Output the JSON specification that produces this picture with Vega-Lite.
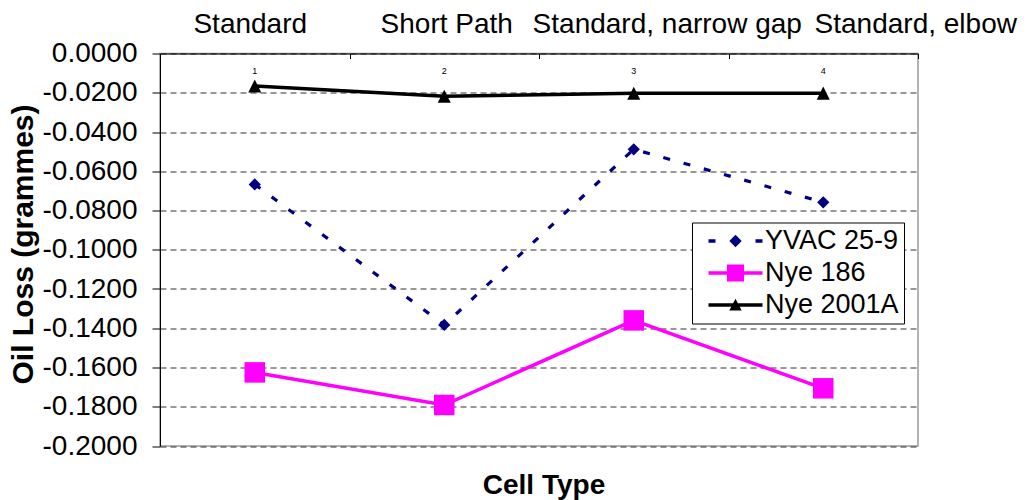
{
  "$schema": "https://vega.github.io/schema/vega-lite/v6.json",
  "width": 758,
  "height": 392.5,
  "autosize": {"type": "none"},
  "padding": {"left": 160, "top": 53.5, "right": 111, "bottom": 54},
  "background": "white",
  "config": {
    "view": {"stroke": "#9a9a9a", "strokeWidth": 1.5},
    "font": "Liberation Sans"
  },
  "title": {
    "text": "Cell Type",
    "orient": "bottom",
    "anchor": "middle",
    "frame": "group",
    "fontSize": 28,
    "fontWeight": "bold",
    "font": "Liberation Sans",
    "color": "black",
    "baseline": "alphabetic",
    "offset": 34,
    "dx": 5
  },
  "data": {
    "values": [
      {"cell": "Standard", "n": "1", "series": "YVAC 25-9", "loss": -0.0667},
      {"cell": "Short Path", "n": "2", "series": "YVAC 25-9", "loss": -0.1383},
      {"cell": "Standard, narrow gap", "n": "3", "series": "YVAC 25-9", "loss": -0.0488},
      {"cell": "Standard, elbow", "n": "4", "series": "YVAC 25-9", "loss": -0.0758},
      {"cell": "Standard", "n": "1", "series": "Nye 186", "loss": -0.1625},
      {"cell": "Short Path", "n": "2", "series": "Nye 186", "loss": -0.1791},
      {"cell": "Standard, narrow gap", "n": "3", "series": "Nye 186", "loss": -0.1360},
      {"cell": "Standard, elbow", "n": "4", "series": "Nye 186", "loss": -0.1706},
      {"cell": "Standard", "n": "1", "series": "Nye 2001A", "loss": -0.0166},
      {"cell": "Short Path", "n": "2", "series": "Nye 2001A", "loss": -0.0218},
      {"cell": "Standard, narrow gap", "n": "3", "series": "Nye 2001A", "loss": -0.0203},
      {"cell": "Standard, elbow", "n": "4", "series": "Nye 2001A", "loss": -0.0202}
    ]
  },
  "encoding": {
    "x": {
      "field": "cell",
      "type": "nominal",
      "sort": ["Standard", "Short Path", "Standard, narrow gap", "Standard, elbow"],
      "scale": {"paddingInner": 0, "paddingOuter": 0},
      "axis": {
        "orient": "top",
        "title": null,
        "labelAngle": 0,
        "labelFont": "Liberation Sans",
        "labelFontSize": 28,
        "labelColor": "black",
        "labelBaseline": "alphabetic",
        "labelPadding": 26.5,
        "labelOverlap": false,
        "labelBound": false,
        "labelFlush": false,
        "labelLimit": 0,
        "labelOffset": {
          "condition": [
            {"test": "datum.value == 'Standard, narrow gap'", "value": 33},
            {"test": "datum.value == 'Standard, elbow'", "value": 92},
            {"test": "datum.value == 'Standard'", "value": -5}
          ],
          "value": 2
        },
        "domainColor": "black",
        "domainWidth": 1,
        "tickColor": "black",
        "tickBand": "extent",
        "tickSize": -5,
        "grid": false
      }
    },
    "y": {
      "field": "loss",
      "type": "quantitative",
      "scale": {"domain": [-0.2, 0], "nice": false, "zero": false},
      "axis": {
        "values": [-0.2, -0.18, -0.16, -0.14, -0.12, -0.1, -0.08, -0.06, -0.04, -0.02, 0],
        "labelExpr": "replace(format(datum.value, '.4f'), '\u2212', '-')",
        "labelFont": "Liberation Sans",
        "labelFontSize": 28,
        "labelColor": "black",
        "labelPadding": 15,
        "tickSize": 8,
        "tickColor": "black",
        "domainColor": "black",
        "grid": true,
        "gridColor": "#333333",
        "gridDash": [6, 4],
        "gridWidth": 1,
        "title": "Oil Loss (grammes)",
        "titleFont": "Liberation Sans",
        "titleFontSize": 30,
        "titleFontWeight": "bold",
        "titleColor": "black",
        "titleAngle": 270,
        "titleAlign": "center",
        "titleBaseline": "alphabetic",
        "titleX": -128,
        "titleY": 190.5,
        "titleLimit": 0
      }
    }
  },
  "layer": [
    {
      "transform": [{"filter": "datum.series == 'YVAC 25-9'"}],
      "mark": {
        "type": "line",
        "color": "#000080",
        "strokeWidth": 3.2,
        "strokeDash": [7, 14],
        "point": {"filled": true, "shape": "diamond", "size": 150, "color": "#000080", "opacity": 1}
      }
    },
    {
      "transform": [{"filter": "datum.series == 'Nye 186'"}],
      "mark": {
        "type": "line",
        "color": "#ff00ff",
        "strokeWidth": 3.5,
        "point": {"filled": true, "shape": "square", "size": 420, "color": "#ff00ff", "opacity": 1}
      }
    },
    {
      "transform": [{"filter": "datum.series == 'Nye 2001A'"}],
      "mark": {
        "type": "line",
        "color": "#000000",
        "strokeWidth": 3.5,
        "point": {"filled": true, "shape": "M0,-1L1,1H-1Z", "size": 170, "color": "#000000", "opacity": 1}
      }
    },
    {
      "transform": [{"filter": "datum.series == 'Nye 2001A'"}],
      "mark": {"type": "text", "fontSize": 9, "dy": 17, "color": "#000000", "font": "Liberation Sans"},
      "encoding": {
        "y": {"datum": 0, "type": "quantitative"},
        "text": {"field": "n"}
      }
    },
    {
      "transform": [{"filter": "false"}],
      "mark": {"type": "point", "filled": true, "opacity": 1},
      "encoding": {
        "color": {
          "field": "series",
          "type": "nominal",
          "scale": {"domain": ["YVAC 25-9", "Nye 186", "Nye 2001A"], "range": ["#000080", "#ff00ff", "#000000"]},
          "legend": {
            "orient": "none",
            "legendX": 532,
            "legendY": 169,
            "title": null,
            "symbolSize": 400,
            "symbolOffset": 25,
            "labelOffset": 16,
            "padding": 5,
            "rowPadding": 4,
            "strokeColor": "black",
            "fillColor": "white",
            "labelFont": "Liberation Sans",
            "labelFontSize": 27,
            "labelColor": "black",
            "labelLimit": 0,
            "symbolStrokeWidth": 0,
            "symbolOpacity": 1
          }
        },
        "shape": {
          "field": "series",
          "type": "nominal",
          "scale": {
            "domain": ["YVAC 25-9", "Nye 186", "Nye 2001A"],
            "range": [
              "M-2.7,-0.18H-2V0.18H-2.7Z M0,-0.62L0.62,0L0,0.62L-0.62,0Z M2,-0.18H2.7V0.18H2Z",
              "M-2.7,-0.18H2.7V0.18H-2.7Z M-0.85,-0.85H0.85V0.85H-0.85Z",
              "M-2.7,-0.18H2.7V0.18H-2.7Z M0,-0.62L0.62,0.55H-0.62Z"
            ]
          },
          "legend": {
            "orient": "none",
            "legendX": 532,
            "legendY": 169,
            "title": null,
            "symbolSize": 400,
            "symbolOffset": 25,
            "labelOffset": 16,
            "padding": 5,
            "rowPadding": 4,
            "strokeColor": "black",
            "fillColor": "white",
            "labelFont": "Liberation Sans",
            "labelFontSize": 27,
            "labelColor": "black",
            "labelLimit": 0,
            "symbolStrokeWidth": 0,
            "symbolOpacity": 1
          }
        }
      }
    }
  ]
}
